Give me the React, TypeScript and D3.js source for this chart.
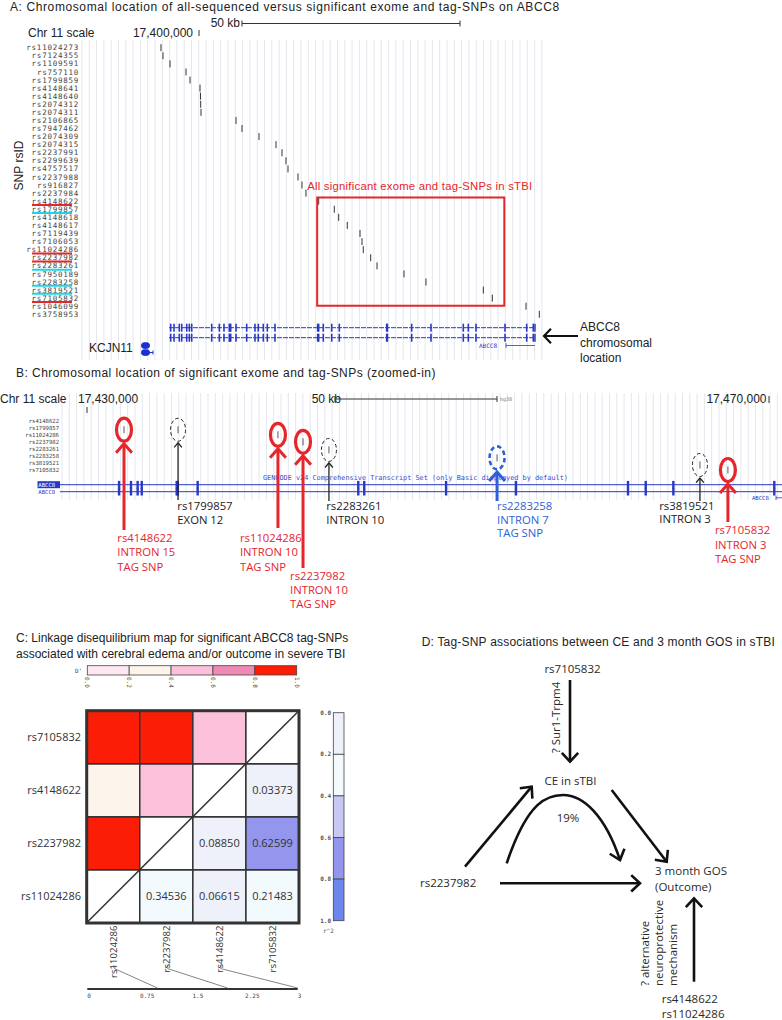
import React from 'react';
import * as d3 from 'd3';

// ---------------- Panel A data ----------------
const snpIdsA = [
  'rs11024273', 'rs7124355', 'rs1109591', 'rs757110', 'rs1799859', 'rs4148641', 'rs4148640',
  'rs2074312', 'rs2074311', 'rs2106865', 'rs7947462', 'rs2074309', 'rs2074315', 'rs2237991',
  'rs2299639', 'rs4757517', 'rs2237988', 'rs916827', 'rs2237984', 'rs4148622', 'rs1799857',
  'rs4148618', 'rs4148617', 'rs7119439', 'rs7106053', 'rs11024286', 'rs2237982', 'rs2283261',
  'rs7950189', 'rs2283258', 'rs3819521', 'rs7105832', 'rs1046099', 'rs3758953',
];
// kb offset from chr11:17,400,000
const snpKbA = [
  -8.72, -8.26, -6.65, -2.98, -2.06, 0.23, 0.34, 0.39, 0.46, 8.49, 9.86, 13.76, 17.66, 19.04,
  19.95, 20.41, 22.71, 23.62, 24.54, 27.45, 31.03, 32.04, 34.01, 36.93, 37.39, 37.68, 39.38,
  40.83, 47.02, 52.06, 65.21, 67.27, 75.0, 78.05,
];
const significantSnps = ['rs4148622', 'rs1799857', 'rs11024286', 'rs2237982', 'rs2283261', 'rs2283258', 'rs3819521', 'rs7105832'];
const tagSnps = ['rs4148622', 'rs11024286', 'rs2237982', 'rs7105832'];
const exonKbA = [
  -6.49, -5.73, -4.52, -3.97, -2.82, -2.22, -1.67, 2.91, 4.66, 5.73, 6.95, 7.1, 7.27, 8.49, 10.94,
  12.84, 13.6, 14.75, 15.67, 17.43, 27.22, 27.45, 28.51, 30.44, 32.18, 43.05, 43.2, 48.78, 53.21,
  60.62, 61.77, 63.53, 70.18, 75.16, 76.67,
];
const geneKbA = [-6.88, 77.06];

// ---------------- Panel B data ----------------
const snpIdsB = significantSnps;
const snpKbB = [32.17, 35.34, 41.2, 42.67, 44.19, 54.05, 65.95, 67.59];
const regionsB = ['INTRON 15', 'EXON 12', 'INTRON 10', 'INTRON 10', 'INTRON 10', 'INTRON 7', 'INTRON 3', 'INTRON 3'];
const snpClassB = ['tag', 'other', 'tag', 'tag', 'other', 'tagBlue', 'other', 'tag'];
const exonKbB = [31.88, 32.58, 32.97, 33.21, 35.26, 35.32, 36.49, 45.91, 46.26, 51.06, 55.16, 61.73, 62.77, 64.39, 70.31];
const rulerKbB = [30, 70];

// ---------------- Panel C data ----------------
const ldSnps = ['rs11024286', 'rs2237982', 'rs4148622', 'rs7105832'];
const dPrimeValues: [string, string, number][] = [
  ['rs7105832', 'rs11024286', 0.92],
  ['rs7105832', 'rs2237982', 0.95],
  ['rs7105832', 'rs4148622', 0.5],
  ['rs4148622', 'rs11024286', 0.3],
  ['rs4148622', 'rs2237982', 0.5],
  ['rs2237982', 'rs11024286', 1.0],
];
const r2Values: [string, string, number][] = [
  ['rs4148622', 'rs7105832', 0.03373],
  ['rs2237982', 'rs4148622', 0.0885],
  ['rs2237982', 'rs7105832', 0.62599],
  ['rs11024286', 'rs2237982', 0.34536],
  ['rs11024286', 'rs4148622', 0.06615],
  ['rs11024286', 'rs7105832', 0.21483],
];
const ldLegendTicks = [0, 0.2, 0.4, 0.6, 0.8, 1.0];
const dPrimeColors = ['#fde8f1', '#fdf4ec', '#fbc0da', '#ee8ab4', '#fb1d06'];
const r2Colors = ['#eef0fa', '#f2fafe', '#c7c9f4', '#9396ec', '#6d86ee'];
const mapTicks = [0, 0.75, 1.5, 2.25, 3];
const mapPosKb = [1.0, 2.0, 3.0];

// ---------------- Panel D data ----------------
const dTopSnp = 'rs7105832';
const dMidSnp = 'rs2237982';
const dBottomSnps = ['rs4148622', 'rs11024286'];
const dMechanism = ['? alternative', 'neuroprotective', 'mechanism'];

const RED = '#e5262b';
const CYAN = '#22d3e6';
const TRACK = '#2a38c6';
const BLUE = '#2f5fd6';
const GRID = '#e4e7ef';
const SANS = '"Liberation Sans", Arial, sans-serif';
const MYR = '"Open Sans", sans-serif';
const MONO = '"DejaVu Sans Mono", monospace';

function head(x: number, y: number, ang: number, len: number, spread: number) {
  const a1 = ang + Math.PI - spread;
  const a2 = ang + Math.PI + spread;
  return `M${x + len * Math.cos(a1)},${y + len * Math.sin(a1)}L${x},${y}L${x + len * Math.cos(a2)},${y + len * Math.sin(a2)}`;
}

function Arrow({ x1, y1, x2, y2, w = 2.6, len = 12, spread = 0.75, color = '#111' }: any) {
  const ang = Math.atan2(y2 - y1, x2 - x1);
  return (
    <g stroke={color} strokeWidth={w} fill="none" strokeLinecap="butt">
      <line x1={x1} y1={y1} x2={x2} y2={y2} />
      <path d={head(x2, y2, ang, len, spread)} />
    </g>
  );
}

// annotation layout for panel B (placement only)
const annB: Record<string, { cyOff: number; arrowEnd: number; labelDx: number; labelY: number; gap: number }> = {
  rs4148622: { cyOff: 9, arrowEnd: 530, labelDx: -6.7, labelY: 542, gap: 14.3 },
  rs1799857: { cyOff: 2, arrowEnd: 500, labelDx: -0.7, labelY: 510, gap: 14 },
  rs11024286: { cyOff: 0, arrowEnd: 528, labelDx: -38, labelY: 542, gap: 14.3 },
  rs2237982: { cyOff: 0, arrowEnd: 568, labelDx: -13, labelY: 580, gap: 14 },
  rs2283261: { cyOff: 1, arrowEnd: 501, labelDx: -2.7, labelY: 510, gap: 13.5 },
  rs2283258: { cyOff: 2, arrowEnd: 501, labelDx: 0, labelY: 510, gap: 13.5 },
  rs3819521: { cyOff: 2, arrowEnd: 501, labelDx: -40.7, labelY: 509.5, gap: 13.5 },
  rs7105832: { cyOff: 0, arrowEnd: 522, labelDx: -13, labelY: 534, gap: 14.5 },
};

export default function App() {
  // ---------- Panel A ----------
  const xA = d3.scaleLinear().domain([0, 50]).range([199, 417]);
  const yA = d3.scalePoint<string>().domain(snpIdsA).range([47.7, 314.3]);
  const gridA = d3.range(82, 546, 7.3);
  const sigIdx = snpIdsA.map((s, i) => (significantSnps.includes(s) ? i : -1)).filter((i) => i >= 0);
  const sigKb = sigIdx.map((i) => snpKbA[i]);
  const boxX1 = xA(d3.min(sigKb)!) - 1.5;
  const boxX2 = xA(d3.max(sigKb)!) + 12;
  const boxY1 = yA(snpIdsA[sigIdx[0]])! - 3.7;
  const boxY2 = yA(snpIdsA[sigIdx[sigIdx.length - 1]])! + 7.6;
  const trackYA = [327.7, 337.7];

  // ---------- Panel B ----------
  const xB = d3.scaleLinear().domain(rulerKbB).range([87, 769]);
  const yB = d3.scalePoint<string>().domain(snpIdsB).range([420.7, 470]);
  const gridB = d3.range(62, 782, 7.3);
  const trackYB = [484.7, 491.7];

  // ---------- Panel C ----------
  const cx = d3.scaleBand<string>().domain(ldSnps).range([86.7, 299]);
  const cy = d3.scaleBand<string>().domain([...ldSnps].reverse()).range([710.7, 922.7]);
  const cell = cx.bandwidth();
  const dColor = d3.scaleThreshold<number, string>().domain([0.2, 0.4, 0.6, 0.8]).range(dPrimeColors);
  const rColor = d3.scaleThreshold<number, string>().domain([0.2, 0.4, 0.6, 0.8]).range(r2Colors);
  const xD = d3.scaleLinear().domain([0, 1]).range([87.3, 296.7]);
  const yR = d3.scaleLinear().domain([0, 1]).range([712.7, 920.7]);
  const xMap = d3.scaleLinear().domain([0, 3]).range([87.3, 297.7]);

  const snpLabelA = { fontFamily: MONO, fontSize: 7.5, letterSpacing: 0.75, fill: '#444' } as any;

  return (
    <svg width={782} height={1020} viewBox="0 0 782 1020" style={{ position: 'absolute', left: 0, top: 0, background: '#fff' }}>
      <rect width={782} height={1020} fill="#fff" />

      {/* ================= PANEL A ================= */}
      <text x={10} y={11} fontFamily={SANS} fontSize={12} letterSpacing={0.6} fill="#222">
        A: Chromosomal location of all-sequenced versus significant exome and tag-SNPs on ABCC8
      </text>
      <g stroke={GRID} strokeWidth={1}>
        {gridA.map((x) => (
          <line key={x} x1={x} x2={x} y1={40} y2={360} />
        ))}
      </g>
      <text x={28} y={37} fontFamily={SANS} fontSize={12} fill="#222">Chr 11 scale</text>
      <text x={xA(0) - 6} y={37} fontFamily={SANS} fontSize={12} fill="#222" textAnchor="end">17,400,000</text>
      <line x1={xA(0)} x2={xA(0)} y1={30} y2={36} stroke="#333" />
      <text x={240} y={27} fontFamily={SANS} fontSize={12} fill="#222" textAnchor="end">50 kb</text>
      <g stroke="#333" strokeWidth={1}>
        <line x1={xA(9.86)} x2={xA(59.86)} y1={23.5} y2={23.5} />
        <line x1={xA(9.86)} x2={xA(9.86)} y1={20.5} y2={26.5} />
        <line x1={xA(59.86)} x2={xA(59.86)} y1={20.5} y2={26.5} />
      </g>
      <text transform={`translate(22.7,165.5) rotate(-90)`} textAnchor="middle" fontFamily={SANS} fontSize={12} fill="#222">SNP rsID</text>

      {snpIdsA.map((id, i) => (
        <g key={id}>
          <text x={79} y={yA(id)! + 2.6} textAnchor="end" {...snpLabelA}>{id}</text>
          <line x1={xA(snpKbA[i])} x2={xA(snpKbA[i])} y1={yA(id)! - 3.5} y2={yA(id)! + 3.5} stroke="#333" strokeWidth={1} />
          {significantSnps.includes(id) && (
            <line x1={32} x2={72} y1={yA(id)! + 3.8} y2={yA(id)! + 3.8} stroke={tagSnps.includes(id) ? RED : CYAN} strokeWidth={2} />
          )}
        </g>
      ))}
      <rect x={boxX1} y={boxY1} width={boxX2 - boxX1} height={boxY2 - boxY1} fill="none" stroke={RED} strokeWidth={2} />
      <text x={boxX1 - 10} y={boxY1 - 7.8} fontFamily={SANS} fontSize={11.3} letterSpacing={0.25} fill={RED}>All significant exome and tag-SNPs in sTBI</text>

      {/* gene track A */}
      <g stroke={TRACK} fill={TRACK}>
        {trackYA.map((ty) => (
          <g key={ty}>
            <line x1={xA(geneKbA[0])} x2={xA(geneKbA[1])} y1={ty} y2={ty} strokeWidth={1} strokeDasharray="5 1" />
            {exonKbA.map((k, j) => (
              <rect key={j} x={xA(k) - 0.8} y={ty - 4} width={1.6} height={8} stroke="none" />
            ))}
            <line x1={xA(geneKbA[1])} x2={xA(geneKbA[1])} y1={ty - 4} y2={ty + 4} strokeWidth={1.5} />
          </g>
        ))}
        <line x1={506} x2={xA(geneKbA[1])} y1={345.5} y2={345.5} strokeWidth={0.8} />
        <line x1={506} x2={506} y1={343} y2={348} strokeWidth={0.8} />
      </g>
      <text x={479} y={347.5} fontFamily={MONO} fontSize={6} fill={TRACK}>ABCC8</text>
      <text x={89} y={351.7} fontFamily={SANS} fontSize={12} fill="#222">KCJN11</text>
      <g fill="#1d2fd0" stroke="#1d2fd0">
        <rect x={141.5} y={342.8} width={8} height={5.5} rx={2.5} />
        <rect x={141.5} y={349.8} width={8} height={5.5} rx={2.5} />
        <line x1={149} x2={153} y1={352.5} y2={352.5} strokeWidth={1} />
        <line x1={153} x2={153} y1={350.5} y2={354.5} strokeWidth={1} />
      </g>
      <Arrow x1={578} y1={336} x2={544} y2={336} w={2.2} len={10} spread={0.8} />
      <g fontFamily={SANS} fontSize={12} fill="#222">
        <text x={580} y={331}>ABCC8</text>
        <text x={580} y={347}>chromosomal</text>
        <text x={580} y={362}>location</text>
      </g>

      {/* ================= PANEL B ================= */}
      <text x={16} y={377} fontFamily={SANS} fontSize={12} letterSpacing={0.45} fill="#222">
        B: Chromosomal location of significant exome and tag-SNPs (zoomed-in)
      </text>
      <g stroke={GRID} strokeWidth={1}>
        {gridB.map((x) => (
          <line key={x} x1={x} x2={x} y1={393} y2={500} />
        ))}
      </g>
      <text x={0} y={403} fontFamily={SANS} fontSize={12} fill="#222">Chr 11 scale</text>
      <text x={xB(rulerKbB[0]) - 9} y={403} fontFamily={SANS} fontSize={12} fill="#222">17,430,000</text>
      <line x1={xB(rulerKbB[0])} x2={xB(rulerKbB[0])} y1={407} y2={413} stroke="#333" />
      <text x={xB(rulerKbB[1]) - 2.5} y={403} textAnchor="end" fontFamily={SANS} fontSize={12} fill="#222">17,470,000</text>
      <line x1={xB(rulerKbB[1])} x2={xB(rulerKbB[1])} y1={396} y2={403} stroke="#333" />
      <text x={311.7} y={403} fontFamily={SANS} fontSize={12} fill="#222">50 kb</text>
      <g stroke="#333" strokeWidth={1}>
        <line x1={335} x2={497} y1={399} y2={399} />
        <line x1={335} x2={335} y1={396} y2={402} />
        <line x1={497} x2={497} y1={396} y2={402} />
      </g>
      <text x={500} y={401} fontFamily={MONO} fontSize={5} fill="#777">hg38</text>

      {snpIdsB.map((id) => (
        <text key={id} x={59} y={yB(id)! + 2} textAnchor="end" fontFamily={MONO} fontSize={5.6} fill="#444">{id}</text>
      ))}

      {/* gene track B */}
      <text x={263} y={479.5} fontFamily={MONO} fontSize={6.85} fill="#3a4ad0">
        GENCODE v24 Comprehensive Transcript Set (only Basic displayed by default)
      </text>
      <g stroke={TRACK} fill={TRACK}>
        {trackYB.map((ty) => (
          <g key={ty}>
            <line x1={60} x2={782} y1={ty} y2={ty} strokeWidth={1} />
            {exonKbB.map((k, j) => (
              <rect key={j} x={xB(k) - 1.2} y={ty - 3.8} width={2.4} height={7.6} stroke="none" />
            ))}
          </g>
        ))}
        <rect x={37.5} y={481.2} width={22.5} height={7} stroke="none" />
        <line x1={776} x2={782} y1={497.8} y2={497.8} strokeWidth={0.8} />
        <line x1={776} x2={776} y1={495.5} y2={500} strokeWidth={0.8} />
      </g>
      <text x={38.3} y={487} fontFamily={MONO} fontSize={5.6} fill="#fff">ABCC8</text>
      <text x={38.3} y={494} fontFamily={MONO} fontSize={5.6} fill={TRACK}>ABCC8</text>
      <text x={752} y={500} fontFamily={MONO} fontSize={5.6} fill={TRACK}>ABCC8</text>

      {/* SNP annotations B */}
      {snpIdsB.map((id, i) => {
        const a = annB[id];
        const x = xB(snpKbB[i]);
        const yc = yB(id)! + a.cyOff;
        const cls = snpClassB[i];
        const color = cls === 'tag' ? RED : cls === 'tagBlue' ? BLUE : '#222';
        const thick = cls !== 'other';
        const ry = 11.5;
        const tip = yc + ry + (thick ? 2.5 : 1.5);
        const lines = thick ? [id, regionsB[i], 'TAG SNP'] : [id, regionsB[i]];
        return (
          <g key={id}>
            <line x1={x} x2={x} y1={yc - 3.5} y2={yc + 3.5} stroke="#444" strokeWidth={0.9} />
            <ellipse
              cx={x}
              cy={yc}
              rx={7.5}
              ry={ry}
              fill="none"
              stroke={color}
              strokeWidth={cls === 'tag' ? 3.2 : cls === 'tagBlue' ? 2.6 : 1}
              strokeDasharray={cls === 'tag' ? undefined : cls === 'tagBlue' ? '4.5 3' : '3.5 2.5'}
            />
            <Arrow x1={x} y1={a.arrowEnd} x2={x} y2={tip} w={thick ? 3 : 1.3} len={thick ? 12 : 6} spread={thick ? 0.72 : 0.7} color={color} />
            <g fontFamily={MYR} fontSize={11.3} fill={color}>
              {lines.map((t, k) => (
                <text key={k} x={x + a.labelDx} y={a.labelY + k * a.gap}>{t}</text>
              ))}
            </g>
          </g>
        );
      })}

      {/* ================= PANEL C ================= */}
      <g fontFamily={SANS} fontSize={12} fill="#222">
        <text x={16} y={641.7}>C: Linkage disequilibrium map for significant ABCC8 tag-SNPs</text>
        <text x={16} y={657.5}>associated with cerebral edema and/or outcome in severe TBI</text>
      </g>
      <text x={75} y={673} fontFamily={MONO} fontSize={6} fill="#444">D'</text>
      {dPrimeColors.map((c, i) => (
        <rect key={i} x={xD(ldLegendTicks[i])} y={665.7} width={xD(ldLegendTicks[i + 1]) - xD(ldLegendTicks[i])} height={9.3} fill={c} stroke="#444" strokeWidth={0.8} />
      ))}
      {ldLegendTicks.map((t) => (
        <text key={t} transform={`translate(${xD(t) - 2},${677}) rotate(90)`} fontFamily={MONO} fontSize={6} fill="#444">{t.toFixed(1)}</text>
      ))}

      {/* LD matrix */}
      {ldSnps.map((rowId) =>
        ldSnps.map((colId) => {
          const d = dPrimeValues.find((v) => (v[0] === rowId && v[1] === colId));
          const r = r2Values.find((v) => (v[0] === rowId && v[1] === colId));
          const fill = d ? dColor(d[2]) : r ? rColor(r[2]) : '#fff';
          return (
            <g key={rowId + colId}>
              <rect x={cx(colId)} y={cy(rowId)} width={cell} height={cell} fill={fill} stroke="#333" strokeWidth={1.5} />
              {r && (
                <text x={cx(colId)! + cell / 2} y={cy(rowId)! + cell / 2 + 4} textAnchor="middle" fontFamily={MYR} fontSize={11} fill="#333">
                  {r[2].toFixed(5)}
                </text>
              )}
            </g>
          );
        })
      )}
      <line x1={cx.range()[0]} y1={cy.range()[1]} x2={cx.range()[1]} y2={cy.range()[0]} stroke="#333" strokeWidth={1.5} />
      <rect x={86.7} y={710.7} width={cell * 4} height={cell * 4} fill="none" stroke="#333" strokeWidth={3} />
      {ldSnps.map((id) => (
        <text key={'r' + id} x={81} y={cy(id)! + cell / 2 + 4} textAnchor="end" fontFamily={MYR} fontSize={11} fill="#333">{id}</text>
      ))}
      {ldSnps.map((id) => (
        <text key={'c' + id} transform={`translate(${cx(id)! + cell / 2 + 4},${925.5}) rotate(-90)`} textAnchor="end" fontFamily={MYR} fontSize={9.6} fill="#333">{id}</text>
      ))}
      {mapPosKb.map((p, i) => {
        const mx = cx(ldSnps[i])! + cell / 2 + 1;
        return (
          <g key={'m' + i}>
            <text x={mx} y={968} textAnchor="middle" fontFamily={MONO} fontSize={5} fill="#555">x</text>
            <line x1={mx} y1={968.5} x2={xMap(p)} y2={988} stroke="#666" strokeWidth={0.8} />
          </g>
        );
      })}
      <line x1={xMap(0)} x2={xMap(3)} y1={989} y2={989} stroke="#333" strokeWidth={2} />
      {mapTicks.map((t) => (
        <text key={t} x={xMap(t)} y={998} fontFamily={MONO} fontSize={6} fill="#444">{String(t)}</text>
      ))}

      {/* r^2 legend */}
      {r2Colors.map((c, i) => (
        <rect key={i} x={333.3} y={yR(ldLegendTicks[i])} width={10.7} height={yR(ldLegendTicks[i + 1]) - yR(ldLegendTicks[i])} fill={c} stroke="#444" strokeWidth={0.8} />
      ))}
      {ldLegendTicks.map((t) => (
        <text key={t} x={331} y={yR(t) + 2} textAnchor="end" fontFamily={MONO} fontSize={6} fontWeight="bold" fill="#555">{t.toFixed(1)}</text>
      ))}
      <text x={323} y={933} fontFamily={MONO} fontSize={6} fill="#555">r^2</text>

      {/* ================= PANEL D ================= */}
      <text x={421.7} y={646} fontFamily={SANS} fontSize={12} letterSpacing={0.2} fill="#222">
        D: Tag-SNP associations between CE and 3 month GOS in sTBI
      </text>
      <g fontFamily={MYR} fontSize={11.5} fill="#2a2a2a">
        <text x={572.5} y={673.3} textAnchor="middle">{dTopSnp}</text>
        <text transform="translate(560,717.5) rotate(-90)" textAnchor="middle">? Sur1-Trpm4</text>
        <text x={570.5} y={785} textAnchor="middle">CE in sTBI</text>
        <text x={568} y={821.7} textAnchor="middle">19%</text>
        <text x={420} y={887}>{dMidSnp}</text>
        <text x={655} y={875}>3 month GOS</text>
        <text x={655} y={890.7}>(Outcome)</text>
        {dMechanism.map((t, i) => (
          <text key={t} transform={`translate(${[648.5, 663, 677][i]},986) rotate(-90)`}>{t}</text>
        ))}
        {dBottomSnps.map((t, i) => (
          <text key={t} x={661.7} y={1003.3 + i * 15}>{t}</text>
        ))}
      </g>
      <Arrow x1={570} y1={680} x2={570} y2={761.7} />
      <Arrow x1={465} y1={866.7} x2={531.7} y2={786.7} />
      <Arrow x1={611.7} y1={790} x2={666.7} y2={861.7} />
      <Arrow x1={500} y1={883.3} x2={640} y2={883.3} />
      <Arrow x1={694} y1={981.7} x2={694} y2={898.3} />
      <path d="M506.7,863.3 C528,800 548,795 563,795 C583,795 605,815 620,860" fill="none" stroke="#111" strokeWidth={2.6} />
      <path d={head(620, 860, Math.atan2(45, 15), 12, 0.7)} fill="none" stroke="#111" strokeWidth={2.6} />
    </svg>
  );
}
